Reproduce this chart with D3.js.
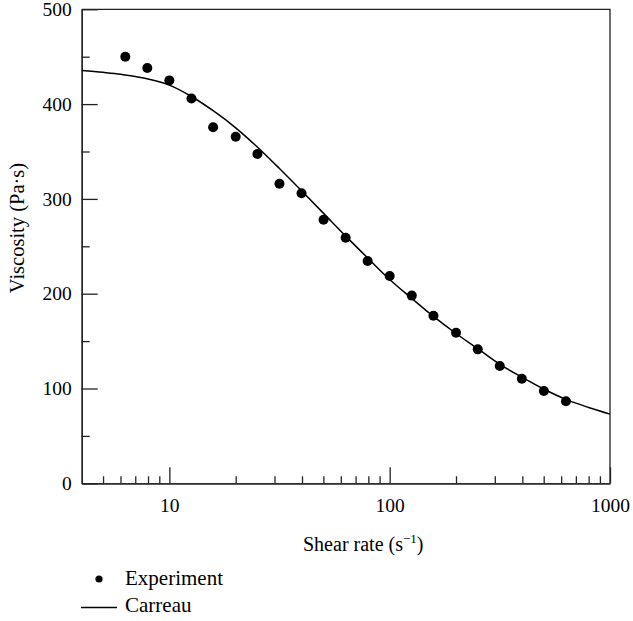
<!DOCTYPE html>
<html>
<head>
<meta charset="utf-8">
<script src="https://cdn.jsdelivr.net/npm/d3@7"></script>
<style>
  body { margin: 0; background: #fff; }
  text { font-family: "Liberation Serif", "Times New Roman", serif; fill: #000; }
</style>
</head>
<body>
<script>
// measured points (shear rate, viscosity)
var shearRate = [6.31, 7.94, 10, 12.6, 15.8, 20, 25.1, 31.6, 39.8, 50.1, 63.1, 79.4, 100, 126, 158, 200, 251, 316, 398, 501, 631];
var viscosity = [450, 438, 425, 406, 375.5, 365.6, 347.4, 316, 306, 278, 259, 234.5, 218.7, 198, 176.8, 158.9, 141.3, 123.7, 110.3, 97.4, 86.5];

// Carreau fit
var fitRate = [4, 5, 6, 7, 8, 10, 12.6, 15.8, 20, 25, 31.6, 40, 50, 63, 80, 100, 126, 158, 200, 251, 316, 398, 500, 631, 800, 1000];
var fitVisc = [435.5, 433.5, 431.5, 429, 426.5, 420, 408, 393, 375, 355, 332, 308, 285, 261, 237, 215, 195, 176, 158, 142, 125.5, 112, 99.5, 88.5, 80, 73];

var xMajor = [10, 100, 1000];
var xMinor = [5, 6, 7, 8, 9, 20, 30, 40, 50, 60, 70, 80, 90, 200, 300, 400, 500, 600, 700, 800, 900];
var yMajor = [0, 100, 200, 300, 400, 500];
var yMinor = [50, 150, 250, 350, 450];

var w = 633;
var h = 621;
var pLeft = 81.7, pRight = 610, pTop = 9.3, pBottom = 483.3;

var svg = d3.select("body").append("svg")
  .attr("width", w)
  .attr("height", h);

var x = d3.scaleLog().domain([4, 1000]).range([pLeft, pRight]);
var y = d3.scaleLinear().domain([0, 500]).range([pBottom, pTop]);

// frame top + right
svg.append("path")
  .attr("d", "M" + pLeft + "," + pTop + "H" + pRight + "V" + pBottom)
  .attr("fill", "none")
  .attr("stroke", "#222")
  .attr("stroke-width", 1.3);

// x axis, ticks pointing inward
svg.append("g")
  .attr("transform", "translate(0," + pBottom + ")")
  .call(d3.axisBottom(x).tickValues(xMajor).tickFormat(d3.format("d"))
    .tickSize(-16).tickSizeOuter(0).tickPadding(15));
svg.append("g")
  .attr("transform", "translate(0," + pBottom + ")")
  .call(d3.axisBottom(x).tickValues(xMinor).tickFormat("")
    .tickSize(-7).tickSizeOuter(0));

// y axis
svg.append("g")
  .attr("transform", "translate(" + pLeft + ",0)")
  .call(d3.axisLeft(y).tickValues(yMajor)
    .tickSize(-16).tickSizeOuter(0).tickPadding(10));
svg.append("g")
  .attr("transform", "translate(" + pLeft + ",0)")
  .call(d3.axisLeft(y).tickValues(yMinor).tickFormat("")
    .tickSize(-8).tickSizeOuter(0));

svg.selectAll(".domain, .tick line")
  .attr("stroke", "#222")
  .attr("stroke-width", 1.3);
svg.selectAll(".tick text")
  .style("font-family", "Liberation Serif, serif")
  .style("font-size", "19.5px")
  .attr("fill", "#000");

// curve
var line = d3.line()
  .x(function(d) { return x(d[0]); })
  .y(function(d) { return y(d[1]); })
  .curve(d3.curveMonotoneX);

svg.append("path")
  .datum(d3.zip(fitRate, fitVisc))
  .attr("d", line)
  .attr("fill", "none")
  .attr("stroke", "#000")
  .attr("stroke-width", 1.5);

// points
svg.selectAll("circle.pt")
  .data(d3.zip(shearRate, viscosity))
  .enter()
  .append("circle")
  .attr("class", "pt")
  .attr("cx", function(d) { return x(d[0]); })
  .attr("cy", function(d) { return y(d[1]); })
  .attr("r", 5)
  .attr("fill", "#000");

// axis titles
var xt = svg.append("text")
  .attr("x", 303)
  .attr("y", 551)
  .style("font-size", "20px");
xt.append("tspan").text("Shear rate (s");
xt.append("tspan").attr("dy", -8).style("font-size", "13px").text("\u22121");
xt.append("tspan").attr("dy", 8).text(")");

svg.append("text")
  .attr("transform", "translate(24,228) rotate(-90)")
  .attr("text-anchor", "middle")
  .style("font-size", "20.5px")
  .text("Viscosity (Pa\u00b7s)");

// legend
svg.append("circle").attr("cx", 99).attr("cy", 579).attr("r", 3.6).attr("fill", "#000");
svg.append("text").attr("x", 125).attr("y", 585).style("font-size", "21px").text("Experiment");
svg.append("line").attr("x1", 81).attr("x2", 117).attr("y1", 607.5).attr("y2", 607.5)
  .attr("stroke", "#000").attr("stroke-width", 1.3);
svg.append("text").attr("x", 125).attr("y", 612).style("font-size", "21px").text("Carreau");
</script>
</body>
</html>
